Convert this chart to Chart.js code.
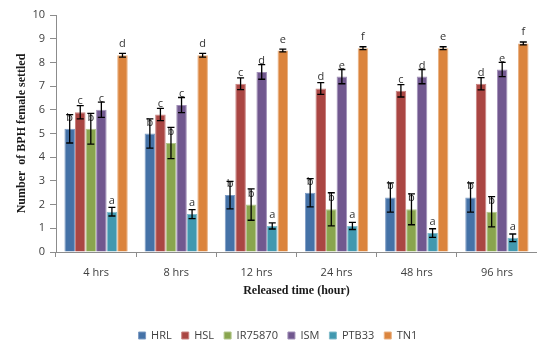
<!DOCTYPE html>
<html>
<head>
<meta charset="utf-8">
<script src="https://cdn.jsdelivr.net/npm/chart.js@4.4.0/dist/chart.umd.min.js"></script>
<style>
  html, body { margin: 0; padding: 0; background: #ffffff; }
  #wrap { width: 537px; height: 342px; position: relative; }
</style>
</head>
<body>
<div id="wrap"><canvas id="chart" width="537" height="342"></canvas></div>
<script>
// Release times (x categories)
const categories = ['4 hrs', '8 hrs', '12 hrs', '24 hrs', '48 hrs', '96 hrs'];

// Mean number of BPH females settled per variety
const hrl     = [5.2, 5.0, 2.4, 2.5, 2.3, 2.3];
const hsl     = [5.9, 5.8, 7.1, 6.9, 6.8, 7.1];
const ir75870 = [5.2, 4.6, 2.0, 1.8, 1.8, 1.7];
const ism     = [6.0, 6.2, 7.6, 7.4, 7.4, 7.7];
const ptb33   = [1.7, 1.6, 1.1, 1.1, 0.8, 0.6];
const tn1     = [8.3, 8.3, 8.5, 8.6, 8.6, 8.8];

// Standard errors
const hrlErr     = [0.60, 0.62, 0.58, 0.60, 0.62, 0.62];
const hslErr     = [0.28, 0.26, 0.25, 0.25, 0.26, 0.26];
const ir75870Err = [0.65, 0.66, 0.66, 0.70, 0.65, 0.64];
const ismErr     = [0.32, 0.32, 0.31, 0.30, 0.30, 0.30];
const ptb33Err   = [0.18, 0.19, 0.13, 0.15, 0.18, 0.16];
const tn1Err     = [0.08, 0.08, 0.06, 0.06, 0.06, 0.06];

// Significance letters (DMRT)
const hrlSig     = ['b', 'b', 'b', 'b', 'b', 'b'];
const hslSig     = ['c', 'c', 'c', 'd', 'c', 'd'];
const ir75870Sig = ['b', 'b', 'b', 'b', 'b', 'b'];
const ismSig     = ['c', 'c', 'd', 'e', 'd', 'e'];
const ptb33Sig   = ['a', 'a', 'a', 'a', 'a', 'a'];
const tn1Sig     = ['d', 'd', 'e', 'f', 'e', 'f'];

// Y axis tick labels
const yTicks = [0, 1, 2, 3, 4, 5, 6, 7, 8, 9, 10];

const series = [
  { label: 'HRL',     data: hrl,     errors: hrlErr,     letters: hrlSig,     color: '#4572A7', edge: '#7d9cc4' },
  { label: 'HSL',     data: hsl,     errors: hslErr,     letters: hslSig,     color: '#AA4643', edge: '#c98280' },
  { label: 'IR75870', data: ir75870, errors: ir75870Err, letters: ir75870Sig, color: '#89A54E', edge: '#b2c68d' },
  { label: 'ISM',     data: ism,     errors: ismErr,     letters: ismSig,     color: '#71588F', edge: '#a290b8' },
  { label: 'PTB33',   data: ptb33,   errors: ptb33Err,   letters: ptb33Sig,   color: '#4198AF', edge: '#83bccb' },
  { label: 'TN1',     data: tn1,     errors: tn1Err,     letters: tn1Sig,     color: '#DB843D', edge: '#e9b182' }
];

const tickFont = { family: '"Open Sans", "Liberation Sans", sans-serif', size: 11 };
const titleFont = { family: '"Liberation Serif", "Times New Roman", serif', size: 12, weight: 'bold' };
const axisGray = '#8c8c8c';

// Draws the error bars and the significance letter above each bar
const errorBarsAndLetters = {
  id: 'errorBarsAndLetters',
  afterDatasetsDraw(chart) {
    const ctx = chart.ctx;
    const yScale = chart.scales.y;
    chart.data.datasets.forEach((ds, i) => {
      const meta = chart.getDatasetMeta(i);
      meta.data.forEach((bar, j) => {
        const v = ds.data[j];
        const e = ds.errors[j];
        const x = bar.x;
        const yTop = yScale.getPixelForValue(v + e);
        const yBot = yScale.getPixelForValue(v - e);
        ctx.save();
        ctx.fillStyle = '#333333';
        ctx.font = '11px "Open Sans", "Liberation Sans", sans-serif';
        ctx.textAlign = 'center';
        ctx.textBaseline = 'alphabetic';
        ctx.fillText(ds.letters[j], x, yScale.getPixelForValue(v) - 8);
        ctx.strokeStyle = '#000000';
        ctx.lineWidth = 1.3;
        ctx.beginPath();
        ctx.moveTo(x, yTop); ctx.lineTo(x, yBot);
        ctx.moveTo(x - 3.5, yTop); ctx.lineTo(x + 3.5, yTop);
        ctx.moveTo(x - 3.5, yBot); ctx.lineTo(x + 3.5, yBot);
        ctx.stroke();
        ctx.restore();
      });
    });
  }
};

new Chart(document.getElementById('chart'), {
  type: 'bar',
  data: {
    labels: categories,
    datasets: series.map(s => ({
      label: s.label,
      data: s.data,
      errors: s.errors,
      letters: s.letters,
      backgroundColor: s.color,
      borderColor: s.edge,
      borderWidth: 1,
      barPercentage: 1.0,
      categoryPercentage: 0.79
    }))
  },
  options: {
    responsive: false,
    animation: false,
    layout: { padding: { left: 19, right: 0, top: 15, bottom: -9 } },
    plugins: {
      legend: {
        position: 'bottom',
        labels: {
          boxWidth: 7,
          boxHeight: 7,
          padding: 10,
          color: '#404040',
          font: tickFont
        }
      },
      tooltip: { enabled: false }
    },
    scales: {
      x: {
        grid: { display: true, drawOnChartArea: false, drawTicks: true, tickLength: 5, color: axisGray, offset: true },
        border: { display: true, color: axisGray, width: 1 },
        ticks: { color: '#404040', font: tickFont, padding: 9, maxRotation: 0 },
        title: { display: true, text: 'Released time (hour)', color: '#1a1a1a', font: titleFont, padding: { top: 0, bottom: 22 } },
        afterFit(scale) { scale.height = 68; }
      },
      y: {
        min: 0,
        max: 10,
        afterBuildTicks(scale) { scale.ticks = yTicks.map(v => ({ value: v })); },
        grid: { display: true, drawOnChartArea: false, drawTicks: true, tickLength: 6, color: axisGray },
        border: { display: true, color: axisGray, width: 1 },
        ticks: { color: '#404040', font: tickFont, padding: 5 },
        title: { display: true, text: 'Number  of BPH female settled', color: '#1a1a1a', font: titleFont, padding: { top: -4, bottom: 0 } },
        afterFit(scale) { scale.width = 37; }
      }
    }
  },
  plugins: [errorBarsAndLetters]
});
</script>
</body>
</html>
